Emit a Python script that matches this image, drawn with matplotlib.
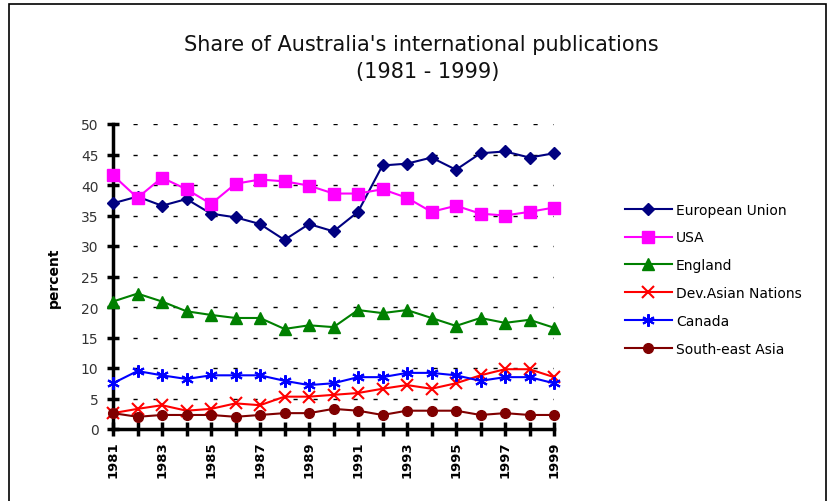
import numpy as np
import matplotlib
matplotlib.use("Agg")
import matplotlib.pyplot as plt
from matplotlib.patches import Rectangle

years = list(range(1981, 2000))

eu = [37.0, 38.1, 36.6, 37.7, 35.3, 34.7, 33.6, 31.0, 33.6, 32.4,
      35.6, 43.2, 43.5, 44.5, 42.5, 45.2, 45.5, 44.5, 45.2]
usa = [41.6, 37.9, 41.2, 39.3, 36.9, 40.2, 40.9, 40.6, 39.9, 38.6,
       38.6, 39.3, 37.9, 35.6, 36.6, 35.3, 35.0, 35.6, 36.3]
england = [20.9, 22.2, 20.9, 19.3, 18.7, 18.2, 18.2, 16.4, 17.0, 16.7,
           19.5, 19.0, 19.5, 18.2, 16.9, 18.2, 17.4, 17.9, 16.6]
dev_asian = [2.6, 3.3, 3.9, 3.0, 3.3, 4.2, 3.9, 5.3, 5.3, 5.6,
             5.9, 6.6, 7.2, 6.6, 7.5, 8.8, 9.8, 9.8, 8.5]
canada = [7.5, 9.5, 8.8, 8.2, 8.8, 8.8, 8.8, 7.9, 7.2, 7.5,
          8.5, 8.5, 9.2, 9.2, 8.8, 7.9, 8.5, 8.5, 7.5]
se_asia = [2.6, 2.0, 2.3, 2.3, 2.3, 2.0, 2.3, 2.6, 2.6, 3.3,
           3.0, 2.3, 3.0, 3.0, 3.0, 2.3, 2.6, 2.3, 2.3]

names = ["European Union", "USA", "England", "Dev.Asian Nations", "Canada", "South-east Asia"]
y_ticks = list(range(0, 55, 5))

fig = plt.figure(figsize=(8.35, 5.02), dpi=100)
# outer chart frame (bottom edge runs off the picture)
fig.patches.append(Rectangle((9/835, -0.05), (826-9)/835, 1.05 - 5/502, transform=fig.transFigure,
                             fill=False, edgecolor="black", linewidth=1.2))

ax = fig.add_axes([113/835, 72/502, 441/835, 305/502])

series = [eu, usa, england, dev_asian, canada, se_asia]
styles = [
    dict(color="#000080", marker="D", ms=6),
    dict(color="#ff00ff", marker="s", ms=8),
    dict(color="#008000", marker="^", ms=8),
    dict(color="#ff0000", marker="x", ms=8, mew=1.5),
    dict(color="#0000ff", marker=(6, 2, 0), ms=9, mew=1.5),
    dict(color="#800000", marker="o", ms=7),
]
for vals, name, st in zip(series, names, styles):
    ax.plot(years, vals, label=name, lw=1.5, clip_on=False, zorder=3, **st)

ax.set_xlim(1981, 1999)
ax.set_ylim(0, 50)
ax.set_yticks(y_ticks)
ax.set_xticks(years)
ax.set_xticklabels([str(y) if y % 2 == 1 else "" for y in years],
                   rotation=90, fontweight="bold", fontsize=9.5)
ax.tick_params(axis="y", direction="inout", length=9, width=2.5, labelsize=10,
               labelcolor="#333333", pad=6)
ax.tick_params(axis="x", direction="inout", length=10, width=2.5, pad=3)

for y in y_ticks[1:]:
    ax.axhline(y, color="black", lw=1.0, dashes=(3, 11.4), zorder=1)

for s in ["top", "right"]:
    ax.spines[s].set_visible(False)
for s in ["left", "bottom"]:
    ax.spines[s].set_linewidth(2.5)

ax.set_ylabel("percent", fontweight="bold", fontsize=10, labelpad=14)

fig.text(0.505, 0.91, "Share of Australia's international publications",
         ha="center", va="center", fontsize=15, color="#111111")
fig.text(0.512, 0.857, "(1981 - 1999)", ha="center", va="center", fontsize=15, color="#111111")

fig.legend(loc="upper left", bbox_to_anchor=(612/835, 1 - 191/502), frameon=False,
           fontsize=10, handlelength=3.4, labelspacing=1.0, handletextpad=0.3)

fig.savefig("out.png", dpi=100)
